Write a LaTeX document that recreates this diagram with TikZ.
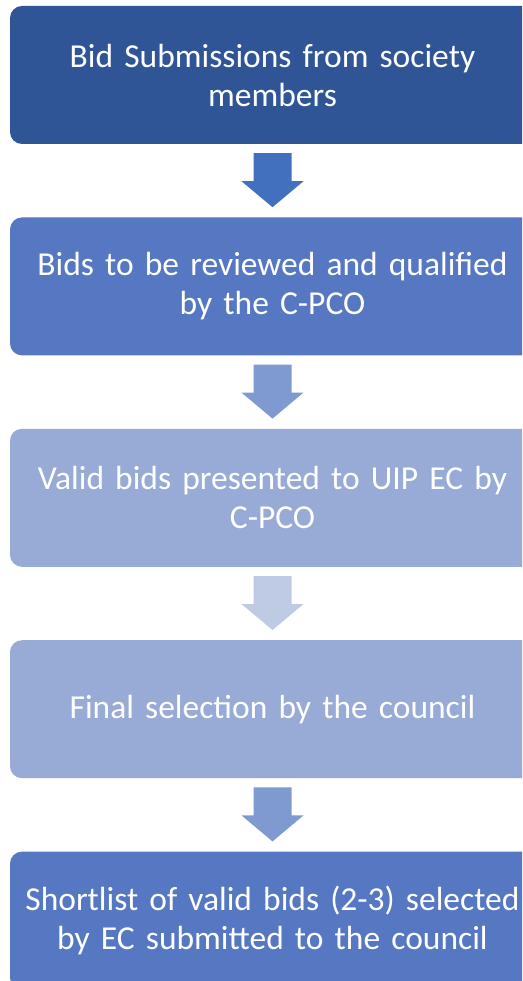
\documentclass[tikz,border=0pt]{standalone}
\usepackage{fontspec}
\setmainfont{Carlito}
\usepackage{tikz}
\usetikzlibrary{positioning}
\definecolor{bidnavy}{RGB}{47,85,151}
\definecolor{bidblue}{RGB}{86,119,193}
\definecolor{bidpale}{RGB}{152,170,214}
\definecolor{arrowblue}{RGB}{66,112,190}
\definecolor{arrowmid}{RGB}{127,154,208}
\definecolor{arrowpale}{RGB}{191,202,229}

\tikzset{
  stagebox/.style={rectangle, rounded corners=12pt, minimum width=525pt,
    minimum height=138pt, text width=505pt, align=center, text=white,
    inner sep=0pt, font=\fontsize{33.5}{39}\selectfont}
}
% block arrow hanging below a stage box
\newcommand{\stagearrow}[2]{%
  \fill[#2] (#1.south) ++(-19,9) -- ++(38,0) -- ++(0,28) -- ++(12,0)
    -- ++(-31,26) -- ++(-31,-26) -- ++(12,0) -- cycle;}

\begin{document}
\begin{tikzpicture}[x=1pt, y=-1pt, node distance=73pt]
  \clip (0,0) rectangle (522,981);
  \fill[white] (0,0) rectangle (522,981);
  % Stages
  \node[stagebox, fill=bidnavy] (submit) at (272.5,75) {Bid Submissions from society\\members};
  \node[stagebox, fill=bidblue, below=of submit] (review) {Bids to be reviewed and qualified\\by the C-PCO};
  \node[stagebox, fill=bidpale, below=of review] (present) {Valid bids presented to UIP EC by\\C-PCO};
  \node[stagebox, fill=bidpale, below=of present] (select) {Final selection by the council};
  \node[stagebox, fill=bidblue, below=of select] (shortlist) {Shortlist of valid bids (2-3) selected\\by EC submitted to the council};
  % Arrows between stages
  \stagearrow{submit}{arrowblue}
  \stagearrow{review}{arrowmid}
  \stagearrow{present}{arrowpale}
  \stagearrow{select}{arrowmid}
\end{tikzpicture}
\end{document}
